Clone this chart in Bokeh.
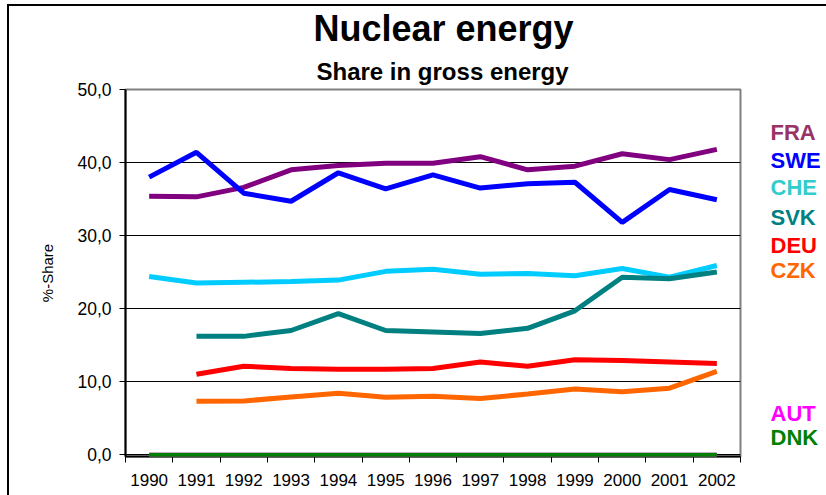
from bokeh.plotting import figure
from bokeh.models import FixedTicker, Title, Range1d, ColumnDataSource
from bokeh.layouts import row
from bokeh.core.properties import value
from bokeh.embed import file_html
from bokeh.resources import INLINE

nan = float("nan")

years = ["1990", "1991", "1992", "1993", "1994", "1995", "1996",
         "1997", "1998", "1999", "2000", "2001", "2002"]

fra = [35.4, 35.3, 36.6, 39.0, 39.6, 39.9, 39.9, 40.8, 39.0, 39.5, 41.2, 40.4, 41.8]
swe = [38.0, 41.4, 35.8, 34.7, 38.6, 36.4, 38.3, 36.5, 37.1, 37.3, 31.8, 36.3, 34.9]
che = [24.4, 23.5, 23.6, 23.7, 23.9, 25.1, 25.4, 24.7, 24.8, 24.5, 25.5, 24.3, 25.9]
svk = [nan, 16.2, 16.2, 17.0, 19.3, 17.0, 16.8, 16.6, 17.3, 19.7, 24.3, 24.1, 25.0]
deu = [nan, 11.0, 12.1, 11.8, 11.7, 11.7, 11.8, 12.7, 12.1, 13.0, 12.9, 12.7, 12.5]
czk = [nan, 7.3, 7.35, 7.9, 8.4, 7.85, 8.0, 7.7, 8.3, 9.0, 8.6, 9.1, 11.4]
aut = [0, 0, 0, 0, 0, 0, 0, 0, 0, 0, 0, 0, 0]
dnk = [0, 0, 0, 0, 0, 0, 0, 0, 0, 0, 0, 0, 0]

series_names = ["FRA", "SWE", "CHE", "SVK", "DEU", "CZK", "AUT", "DNK"]
series_values = [fra, swe, che, svk, deu, czk, aut, dnk]
line_colors = ["#800080", "#0000FF", "#00CCFF", "#008080", "#FF0000", "#FF6600", "#FF00FF", "#008000"]
label_colors = ["#993366", "#0000FF", "#33CCCC", "#008080", "#FF0000", "#FF6600", "#FF00FF", "#008000"]
label_y = [44.1, 40.3, 36.6, 32.5, 28.6, 25.2, 5.7, 2.4]

y_ticks = [0, 10, 20, 30, 40, 50]

FONT = "'Liberation Sans', Arial, sans-serif"

xs = [i + 0.5 for i in range(len(years))]

yr = Range1d(-0.25, 50)

p = figure(width=750, height=495,
           x_range=Range1d(0, len(years)), y_range=yr,
           output_backend="svg", toolbar_location=None,
           title="Nuclear energy",
           min_border_left=125, min_border_right=10,
           min_border_top=89, min_border_bottom=39)

p.title.text_font = FONT
p.title.text_font_size = "36px"
p.title.text_font_style = "bold"
p.title.align = "left"
p.title.offset = 188
p.title.standoff = 3
p.title.text_color = "black"

sub = Title(text="Share in gross energy", align="left", offset=191,
            text_font=FONT, text_font_size="24px", text_font_style="bold",
            text_color="black")
p.add_layout(sub, "above")

p.outline_line_color = "#808080"
p.outline_line_width = 2
p.background_fill_color = "white"
p.border_fill_alpha = 0

# x axis
p.xaxis.ticker = FixedTicker(ticks=xs, minor_ticks=list(range(len(years) + 1)))
p.xaxis.major_label_overrides = {x: y for x, y in zip(xs, years)}
p.xaxis.major_tick_line_color = None
p.xaxis.major_tick_out = 0
p.xaxis.major_tick_in = 0
p.xaxis.minor_tick_line_color = "black"
p.xaxis.minor_tick_out = 6
p.xaxis.minor_tick_in = 0
p.xaxis.major_label_standoff = 11
p.xaxis.major_label_text_font = FONT
p.xaxis.major_label_text_font_size = "17px"
p.xaxis.major_label_text_color = "black"
p.xaxis.axis_line_color = "black"
p.xaxis.axis_line_width = 2

# y axis
p.yaxis.ticker = FixedTicker(ticks=y_ticks, minor_ticks=[])
p.yaxis.major_label_overrides = {t: f"{t:.1f}".replace(".", ",") for t in y_ticks}
p.yaxis.major_tick_out = 6
p.yaxis.major_tick_in = 0
p.yaxis.major_tick_line_color = "black"
p.yaxis.major_label_standoff = 8
p.yaxis.major_label_text_font = FONT
p.yaxis.major_label_text_font_size = "17.5px"
p.yaxis.major_label_text_color = "black"
p.yaxis.axis_line_color = "black"
p.yaxis.axis_line_width = 2
p.yaxis.axis_label = "%-Share"
p.yaxis.axis_label_text_font = FONT
p.yaxis.axis_label_text_font_size = "15px"
p.yaxis.axis_label_text_font_style = "normal"
p.yaxis.axis_label_text_color = "black"
p.yaxis.axis_label_standoff = 18

p.xgrid.grid_line_color = None
p.ygrid.grid_line_color = "black"
p.ygrid.grid_line_width = 1

for name, vals, col in zip(series_names, series_values, line_colors):
    w = 4 if name in ("AUT", "DNK") else 5
    r = p.line(xs, vals, line_color=col, line_width=w)
    if name in ("AUT", "DNK"):
        r.level = "overlay"

# label panel on the right
p2 = figure(width=76, height=495, x_range=Range1d(0, 76), y_range=yr,
            output_backend="svg", toolbar_location=None,
            x_axis_location=None, y_axis_location=None,
            min_border_left=0, min_border_right=0,
            min_border_top=89, min_border_bottom=39)
p2.outline_line_color = None
p2.grid.grid_line_color = None
p2.border_fill_alpha = 0
p2.background_fill_alpha = 0

src = ColumnDataSource(dict(x=[20] * len(series_names), y=label_y,
                            text=series_names, color=label_colors))
p2.text(x="x", y="y", text="text", text_color="color", source=src,
        text_font=value(FONT), text_font_size="22px", text_font_style="bold",
        text_baseline="middle", text_align="left")

layout = row(p, p2, spacing=0)
layout.styles = {"box-shadow": "inset 7px 4px 0 0 white, inset 9px 6px 0 0 black"}

open("out.html", "w").write(file_html(layout, INLINE))
